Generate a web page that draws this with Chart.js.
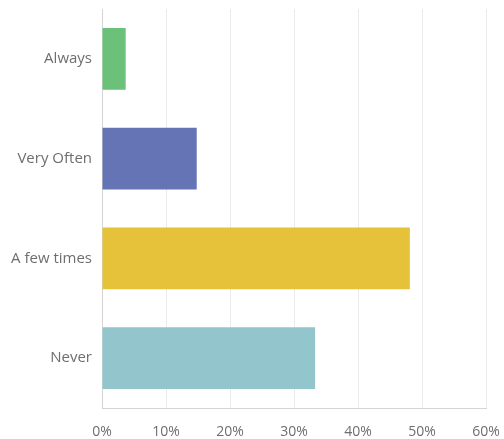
<!DOCTYPE html>
<html>
<head>
<meta charset="utf-8">
<script src="https://cdn.jsdelivr.net/npm/chart.js@4/dist/chart.umd.min.js"></script>
<style>
  html, body { margin: 0; padding: 0; background: #ffffff; }
  #wrap { width: 504px; height: 439px; }
</style>
</head>
<body>
<div id="wrap"><canvas id="c" width="504" height="439"></canvas></div>
<script>
const categories = ["Always", "Very Often", "A few times", "Never"];
const percentValues = [3.7, 14.8, 48.1, 33.3];
const barColors = ["#6bc17a", "#6574b4", "#e6c23a", "#93c6cc"];
const tickValues = [0, 10, 20, 30, 40, 50, 60];

const FAMILY = "'Open Sans', sans-serif";

new Chart(document.getElementById('c'), {
  type: 'bar',
  data: {
    labels: categories,
    datasets: [{
      data: percentValues,
      backgroundColor: barColors,
      borderWidth: 0,
      barPercentage: 0.62,
      categoryPercentage: 1.0
    }]
  },
  options: {
    indexAxis: 'y',
    responsive: false,
    animation: false,
    devicePixelRatio: 1,
    layout: { padding: { top: 9, right: 18, bottom: 0, left: 0 } },
    plugins: { legend: { display: false }, tooltip: { enabled: false } },
    scales: {
      x: {
        min: tickValues[0],
        max: tickValues[tickValues.length - 1],
        afterBuildTicks: (axis) => { axis.ticks = tickValues.map(v => ({ value: v })); },
        afterFit: (axis) => { axis.height = 31; axis.paddingLeft = 0; axis.paddingRight = 0; },
        grid: { color: '#ebebeb', lineWidth: 1, drawTicks: false },
        border: { display: true, color: '#d4d4d4', width: 1 },
        ticks: {
          padding: 16,
          color: '#6e6e6e',
          font: { family: FAMILY, size: 14 },
          maxRotation: 0,
          callback: (v) => v + '%'
        }
      },
      y: {
        afterFit: (axis) => { axis.width = 102; axis.paddingTop = 0; axis.paddingBottom = 0; },
        grid: { display: false, drawTicks: false },
        border: { display: true, color: '#d4d4d4', width: 1 },
        ticks: { padding: 10, color: '#6e6e6e', font: { family: FAMILY, size: 15 } }
      }
    }
  }
});
</script>
</body>
</html>
